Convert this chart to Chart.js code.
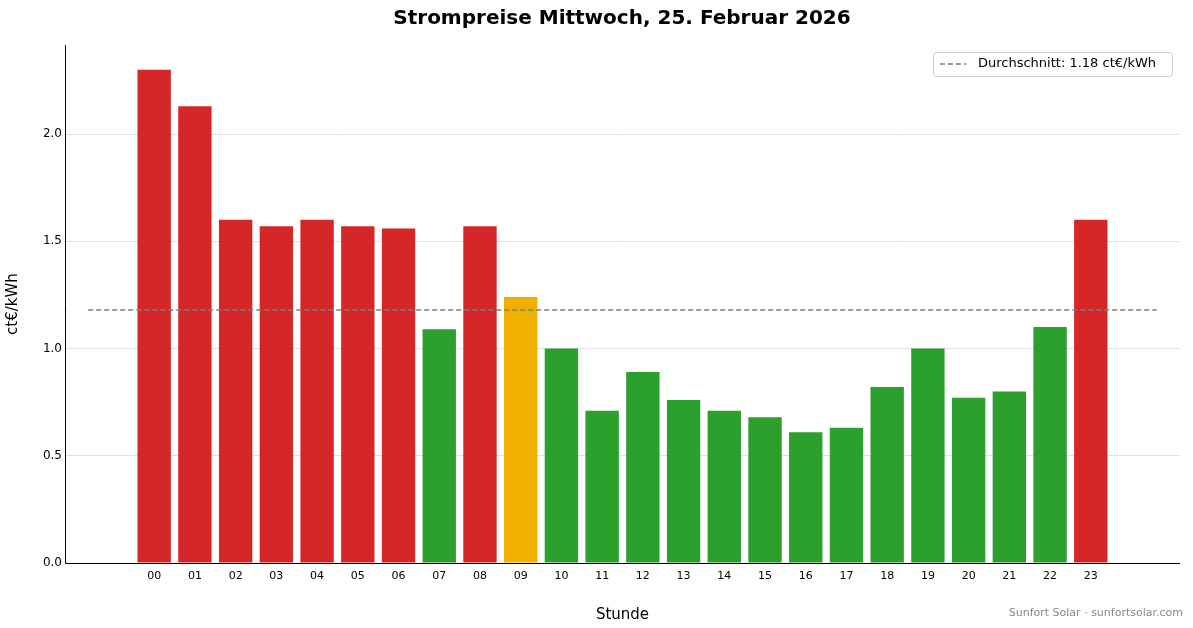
<!DOCTYPE html>
<html><head><meta charset="utf-8">
<script src="https://cdn.jsdelivr.net/npm/chart.js@4"></script>
<style>html,body{margin:0;padding:0;background:#fff}#w{width:1193px;height:628px}</style>
</head><body><div id="w"><canvas id="c"></canvas></div>
<script>
const hours=["00","01","02","03","04","05","06","07","08","09","10","11","12","13","14","15","16","17","18","19","20","21","22","23"];
const prices=[2.30,2.13,1.60,1.57,1.60,1.57,1.56,1.09,1.57,1.24,1.00,0.71,0.89,0.76,0.71,0.68,0.61,0.63,0.82,1.00,0.77,0.80,1.10,1.60];
const colorKeys=["r","r","r","r","r","r","r","g","r","o","g","g","g","g","g","g","g","g","g","g","g","g","g","r"];
const average=1.18;
const palette={r:"#d62728",g:"#2ca02c",o:"#f0b000"};
const F="DejaVu Sans";
const deco={id:"deco",afterDraw(ch){const c=ch.ctx,a=ch.chartArea;c.save();
c.fillStyle="#000";c.font="bold 20px "+F;c.textAlign="center";c.textBaseline="middle";c.fillText("Strompreise Mittwoch, 25. Februar 2026",622,19);
c.fillStyle="#888";c.font="11px "+F;c.textAlign="right";c.fillText("Sunfort Solar · sunfortsolar.com",1183,613);
// legend
c.fillStyle="rgba(255,255,255,0.85)";c.strokeStyle="#ccc";c.lineWidth=1;
c.beginPath();c.roundRect(933.5,52.5,239,24,3);c.fill();c.stroke();
c.strokeStyle="#7f7f7f";c.lineWidth=1.5;c.setLineDash([5,3]);c.beginPath();c.moveTo(940,64);c.lineTo(966,64);c.stroke();c.setLineDash([]);
c.fillStyle="#000";c.font="13px "+F;c.textAlign="left";c.fillText("Durchschnitt: "+average.toFixed(2)+" ct€/kWh",978,64);
// axes lines
c.strokeStyle="#000";c.lineWidth=1;c.beginPath();c.moveTo(a.left+0.5,a.top);c.lineTo(a.left+0.5,a.bottom+0.5);c.lineTo(a.right,a.bottom+0.5);c.stroke();
c.restore();}};
new Chart(document.getElementById("c"),{
data:{datasets:[
{type:"bar",data:hours.map((h,i)=>({x:i,y:prices[i]})),backgroundColor:colorKeys.map(k=>palette[k]),barPercentage:0.82,categoryPercentage:1,order:2},
{type:"line",data:[{x:-1.62,y:average},{x:24.62,y:average}],borderColor:"#7f7f7f",borderWidth:1.5,borderDash:[5,3],pointRadius:0,order:1}
]},
options:{responsive:true,maintainAspectRatio:false,animation:false,
layout:{padding:{top:45,right:13,left:0,bottom:0}},
plugins:{legend:{display:false},tooltip:{enabled:false}},
scales:{
x:{type:"linear",min:-1.62,max:24.62,afterFit(s){s.height=65},afterBuildTicks(s){s.ticks=hours.map((h,i)=>({value:i}))},
ticks:{autoSkip:false,maxRotation:0,color:"#000",font:{family:F,size:11},callback:(v)=>hours[v]},
grid:{display:false,drawTicks:true,tickLength:4},border:{display:false},
title:{display:true,text:"Stunde",color:"#000",font:{family:F,size:15},padding:{top:2}}},
y:{min:0,max:2.415,afterFit(s){s.width=65},afterBuildTicks(s){s.ticks=[0,0.5,1,1.5,2].map(v=>({value:v}))},
ticks:{color:"#000",font:{family:F,size:12},callback:v=>v.toFixed(1)},
grid:{color:"#e0e0e0",borderDash:[1,3],drawTicks:false,tickLength:4},border:{display:false},
title:{display:true,text:"ct€/kWh",color:"#000",font:{family:F,size:15},padding:{bottom:4}}}
}},
plugins:[deco]});
</script></body></html>
